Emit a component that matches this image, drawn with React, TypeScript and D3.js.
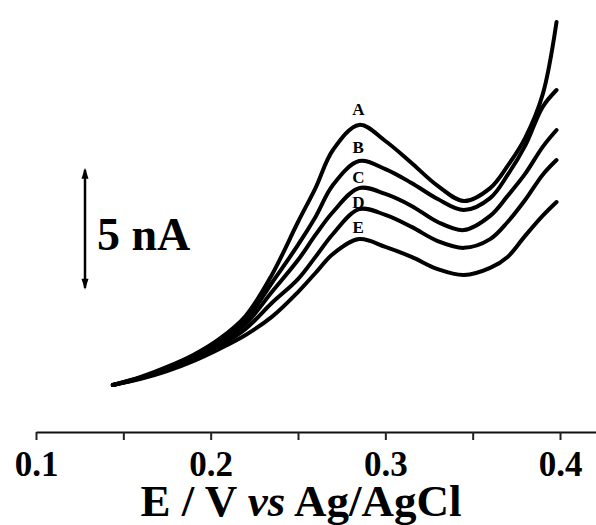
import React, { useEffect, useRef } from "react";
import * as d3 from "d3";

// potentials (V vs Ag/AgCl) shared by every trace
const potentials = [
  0.144, 0.16, 0.175, 0.19, 0.205, 0.22, 0.235, 0.25, 0.26, 0.27, 0.285, 0.3,
  0.315, 0.33, 0.345, 0.36, 0.37, 0.38, 0.39, 0.398,
];

// currents in nA
const curveA = [
  0, 0.33, 0.74, 1.23, 1.89, 2.83, 4.51, 6.68, 8.07, 9.63, 10.66, 10.0, 9.1,
  8.16, 7.54, 8.07, 8.98, 10.12, 11.89, 14.88,
];
const curveB = [
  0, 0.31, 0.7, 1.19, 1.8, 2.66, 4.18, 5.74, 6.89, 8.2, 9.18, 8.85, 8.28, 7.62,
  7.17, 7.66, 8.61, 9.8, 11.39, 12.09,
];
const curveC = [
  0, 0.29, 0.66, 1.15, 1.72, 2.5, 3.81, 5.12, 6.15, 7.09, 8.07, 7.83, 7.34,
  6.68, 6.35, 6.93, 7.75, 8.65, 9.75, 10.45,
];
const curveD = [
  0, 0.27, 0.61, 1.07, 1.6, 2.3, 3.36, 4.34, 5.25, 6.19, 7.21, 6.97, 6.48,
  5.9, 5.62, 5.98, 6.68, 7.58, 8.61, 9.22,
];
const curveE = [
  0, 0.25, 0.57, 0.98, 1.48, 2.05, 2.79, 3.81, 4.59, 5.37, 5.98, 5.66, 5.25,
  4.75, 4.51, 4.8, 5.25, 6.11, 6.93, 7.5,
];

const curveNames = ["A", "B", "C", "D", "E"];
const curves = [curveA, curveB, curveC, curveD, curveE];
// label baseline, in nA, above each peak
const labelLevels = [11.07, 9.51, 8.28, 7.25, 6.23];

const xTicks = [0.1, 0.15, 0.2, 0.25, 0.3, 0.35, 0.4];
const xMajor = [0.1, 0.2, 0.3, 0.4];

const scaleBarFrom = 3.9;
const scaleBarSize = 5;
const scaleBarLabel = "5 nA";

const W = 596,
  H = 525;
const axisY = 432;
const serif = "'Liberation Serif', 'Times New Roman', serif";

export default function App(): JSX.Element {
  const axisRef = useRef<SVGGElement>(null);

  const x = d3.scaleLinear().domain([0.1, 0.4206]).range([36, 596]);
  const y = d3.scaleLinear().domain([0, 15]).range([385, 19]);

  const line = d3
    .line<number>()
    .x((_, i) => x(potentials[i]))
    .y((d) => y(d))
    .curve(d3.curveCatmullRom.alpha(0.5));

  useEffect(() => {
    if (!axisRef.current) return;
    const g = d3.select(axisRef.current);
    g.selectAll("*").remove();
    g.call(
      d3
        .axisBottom(x)
        .tickValues(xTicks)
        .tickSize(8)
        .tickSizeOuter(0)
        .tickPadding(11)
        .tickFormat((d) =>
          xMajor.some((m) => Math.abs(m - (d as number)) < 1e-9)
            ? d3.format(".1f")(d as number)
            : ""
        )
    );
    g.select(".domain").attr("stroke", "#111").attr("stroke-width", 2);
    g.selectAll(".tick line").attr("stroke", "#222").attr("stroke-width", 2);
    g.selectAll(".tick text")
      .attr("fill", "#000")
      .attr("font-family", serif)
      .attr("font-weight", "bold")
      .attr("font-size", 35);
  }, []);

  const barTop = y(scaleBarFrom + scaleBarSize);
  const barBottom = y(scaleBarFrom);
  const barX = 85;

  return (
    <svg
      width={W}
      height={H}
      style={{ position: "absolute", left: 0, top: 0, background: "#fff" }}
    >
      {curves.map((c, i) => (
        <path
          key={curveNames[i]}
          d={line(c) || ""}
          fill="none"
          stroke="#000"
          strokeWidth={4}
          strokeLinejoin="round"
          strokeLinecap="round"
        />
      ))}
      {curveNames.map((n, i) => (
        <text
          key={n}
          x={x(0.2845)}
          y={y(labelLevels[i])}
          textAnchor="middle"
          fontFamily={serif}
          fontWeight="bold"
          fontSize={17}
        >
          {n}
        </text>
      ))}

      {/* scale bar */}
      <line
        x1={barX}
        x2={barX}
        y1={barTop + 2}
        y2={barBottom - 2}
        stroke="#000"
        strokeWidth={2.5}
      />
      <path
        d={`M${barX},${barTop} L${barX - 3.5},${barTop + 11} L${barX + 3.5},${barTop + 11} Z`}
        fill="#000"
      />
      <path
        d={`M${barX},${barBottom} L${barX - 3.5},${barBottom - 11} L${barX + 3.5},${barBottom - 11} Z`}
        fill="#000"
      />
      <text
        x={97}
        y={250}
        fontFamily={serif}
        fontWeight="bold"
        fontSize={46}
      >
        {scaleBarLabel}
      </text>

      <g ref={axisRef} transform={`translate(0,${axisY})`} />

      <text
        x={301}
        y={516}
        textAnchor="middle"
        fontFamily={serif}
        fontWeight="bold"
        fontSize={45}
      >
        E / V <tspan fontStyle="italic">vs</tspan> Ag/AgCl
      </text>
    </svg>
  );
}
